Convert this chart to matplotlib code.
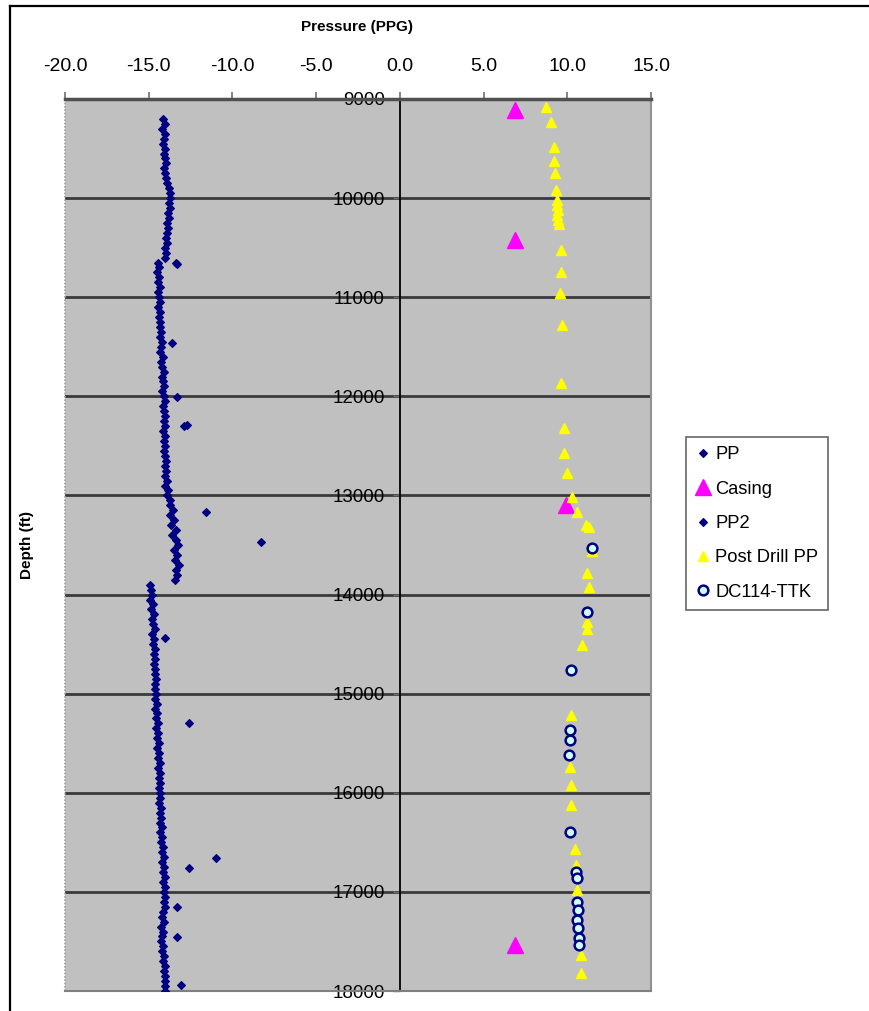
import numpy as np
import matplotlib
matplotlib.use("Agg")
import matplotlib.pyplot as plt
from matplotlib.lines import Line2D

plt.rcParams['font.family'] = ['Liberation Sans', 'DejaVu Sans']

# ---------------- data ----------------
x_ticks = [-20, -15, -10, -5, 0, 5, 10, 15]
y_ticks = [9000, 10000, 11000, 12000, 13000, 14000, 15000, 16000, 17000, 18000]

# PP: upper log trace, sampled every 50 ft from 9200 to 13850
pp_depth = np.arange(9200, 13900, 50)
pp_value = [
    -14.15, -14.05, -14.2, -14.0, -14.1, -14.15, -14.0, -14.1, -14.05, -13.95,
    -14.1, -14.0, -13.95, -13.9, -13.8, -13.75, -13.7, -13.8, -13.75, -13.85,
    -13.8, -13.9, -13.85, -13.9, -13.95, -13.9, -14.0, -13.95, -14.05, -14.45,
    -14.4, -14.5, -14.4, -14.45, -14.35, -14.45, -14.4, -14.35, -14.45, -14.3,
    -14.4, -14.3, -14.35, -14.25, -14.35, -14.2, -14.25, -14.3, -14.15, -14.25,
    -14.2, -14.1, -14.2, -14.15, -14.1, -14.2, -14.1, -14.05, -14.15, -14.1,
    -14.0, -14.1, -14.05, -14.15, -14.05, -14.1, -14.0, -14.1, -14.05, -13.95,
    -14.05, -13.95, -14.0, -13.9, -14.0, -13.85, -13.9, -13.75, -13.7, -13.55,
    -13.75, -13.5, -13.65, -13.4, -13.6, -13.35, -13.25, -13.5, -13.3, -13.45,
    -13.2, -13.4, -13.3, -13.45,
]
pp_out_depth = [10650, 10660, 11462, 12007, 12290, 12300, 13168, 13470]
pp_out_value = [-13.4, -13.3, -13.6, -13.3, -12.7, -12.9, -11.6, -8.3]

# PP2: lower log trace, sampled every 50 ft from 13900 to 18000
pp2_depth = np.arange(13900, 18050, 50)
pp2_value = [
    -14.9, -14.85, -14.8, -14.9, -14.75, -14.85, -14.7, -14.8, -14.75, -14.65,
    -14.8, -14.7, -14.75, -14.65, -14.7, -14.6, -14.7, -14.6, -14.65, -14.55,
    -14.65, -14.6, -14.55, -14.6, -14.5, -14.6, -14.5, -14.55, -14.45, -14.55,
    -14.45, -14.5, -14.4, -14.5, -14.4, -14.45, -14.35, -14.45, -14.35, -14.4,
    -14.3, -14.4, -14.35, -14.3, -14.4, -14.25, -14.35, -14.25, -14.3, -14.2,
    -14.3, -14.2, -14.25, -14.15, -14.2, -14.1, -14.2, -14.1, -14.15, -14.05,
    -14.15, -14.05, -14.1, -14.0, -14.1, -14.05, -14.15, -14.2, -14.1, -14.25,
    -14.15, -14.2, -14.25, -14.15, -14.2, -14.1, -14.15, -14.05, -14.1, -14.0,
    -14.05, -14.0, -14.0,
]
pp2_out_depth = [14440, 15297, 16660, 16760, 17150, 17455, 17940]
pp2_out_value = [-14.0, -12.6, -11.0, -12.6, -13.3, -13.3, -13.1]

casing_depth = [9110, 10423, 13097, 17537]
casing_value = [6.9, 6.9, 9.95, 6.9]

post_depth = [9080, 9232, 9484, 9626, 9747, 9918, 10020, 10070, 10120, 10170,
              10220, 10260, 10524, 10746, 10958, 11280, 11866, 12320, 12572, 12774,
              13016, 13168, 13300, 13319, 13560, 13783, 13924, 14278, 14348, 14510,
              15216, 15741, 15923, 16125, 16568, 16730, 16982, 17638, 17820]
post_value = [8.75, 9.05, 9.2, 9.2, 9.25, 9.35, 9.4, 9.4, 9.45, 9.4,
              9.45, 9.5, 9.6, 9.6, 9.55, 9.7, 9.6, 9.8, 9.8, 10.0,
              10.3, 10.6, 11.1, 11.3, 11.45, 11.15, 11.3, 11.15, 11.15, 10.9,
              10.2, 10.15, 10.25, 10.25, 10.45, 10.55, 10.6, 10.8, 10.8]

dc_depth = [13530, 14177, 14762, 15367, 15468, 15620, 16397, 16800, 16860, 17103,
            17184, 17285, 17366, 17466, 17537]
dc_value = [11.45, 11.2, 10.2, 10.15, 10.15, 10.1, 10.15, 10.55, 10.6, 10.6,
            10.65, 10.6, 10.65, 10.7, 10.7]

# ---------------- figure ----------------
W, H = 869, 1011
fig = plt.figure(figsize=(W / 100, H / 100), dpi=100)
fig.patch.set_facecolor('white')

L, R, T, B = 65, 651, 99, 991
ax = fig.add_axes([L / W, 1 - B / H, (R - L) / W, (B - T) / H])
ax.set_facecolor('#c0c0c0')

navy = '#000080'
ax.plot(np.concatenate([pp_value, pp_out_value]), np.concatenate([pp_depth, pp_out_depth]),
        ls='none', marker='D', ms=4.3, mfc=navy, mec=navy, mew=0.8, label='PP', zorder=3)
ax.plot(casing_value, casing_depth, ls='none', marker='^', ms=12, mfc='#ff00ff', mec='#ff00ff',
        label='Casing', zorder=3)
ax.plot(np.concatenate([pp2_value, pp2_out_value]), np.concatenate([pp2_depth, pp2_out_depth]),
        ls='none', marker='D', ms=4.3, mfc=navy, mec=navy, mew=0.8, label='PP2', zorder=3)
ax.plot(post_value, post_depth, ls='none', marker='^', ms=6.5, mfc='#ffff00', mec='#ffff00',
        label='Post Drill PP', zorder=4)
ax.plot(dc_value, dc_depth, ls='none', marker='o', ms=7, mfc='#ccffff', mec=navy, mew=1.8,
        label='DC114-TTK', zorder=5)

ax.set_xlim(-20, 15)
ax.set_ylim(18000, 9000)

# x axis on top
ax.xaxis.set_ticks_position('top')
ax.xaxis.set_label_position('top')
ax.set_xticks(x_ticks)
ax.set_xticklabels([f'{v:.1f}' for v in x_ticks], fontsize=14)
ax.tick_params(axis='x', direction='out', length=5, width=1.2, color='#707070', pad=12)

# y axis through x = 0
ax.spines['left'].set_position(('data', 0))
ax.spines['left'].set_color('black')
ax.spines['left'].set_linewidth(1.3)
ax.spines['left'].set_zorder(2)
ax.set_yticks(y_ticks)
ax.set_yticklabels([str(v) for v in y_ticks], fontsize=13.5)
ax.tick_params(axis='y', direction='out', length=5, width=1, color='#707070', pad=6)

ax.spines['top'].set_color('#505050')
ax.spines['top'].set_linewidth(2.5)
ax.spines['right'].set_color('#909090')
ax.spines['right'].set_linestyle((0, (1, 1)))
ax.spines['right'].set_linewidth(1.5)
ax.spines['bottom'].set_color('#808080')
ax.spines['bottom'].set_linewidth(1.5)

# left plot-area edge (dotted)
ax.plot([0, 0], [0, 1], transform=ax.transAxes, color='#a0a0a0', lw=1.2,
        ls=(0, (1, 1)), clip_on=False, zorder=1)

ax.grid(axis='y', color='#3a3a3a', lw=2)
ax.grid(axis='x', visible=False)
ax.set_axisbelow(True)

fig.text(357 / W, 1 - 27 / H, 'Pressure (PPG)', fontsize=11, fontweight='bold',
         ha='center', va='center')
fig.text(27 / W, 1 - 545 / H, 'Depth (ft)', fontsize=11, fontweight='bold',
         rotation=90, ha='center', va='center')

leg = fig.legend(loc='upper left', bbox_to_anchor=(686 / W, 1 - 437 / H),
                 fontsize=13.2, frameon=True, fancybox=False, handlelength=0.8,
                 handletextpad=0.3, labelspacing=0.95, borderpad=0.5,
                 borderaxespad=0, markerscale=1.0)
leg.get_frame().set_edgecolor('#404040')
leg.get_frame().set_linewidth(1.2)

# outer frame lines (left and top)
fig.add_artist(Line2D([10 / W, 10 / W], [0, 1 - 6 / H], color='black', lw=1.6))
fig.add_artist(Line2D([10 / W, 1], [1 - 6 / H, 1 - 6 / H], color='black', lw=1.6))

fig.savefig('out.png', dpi=100)
